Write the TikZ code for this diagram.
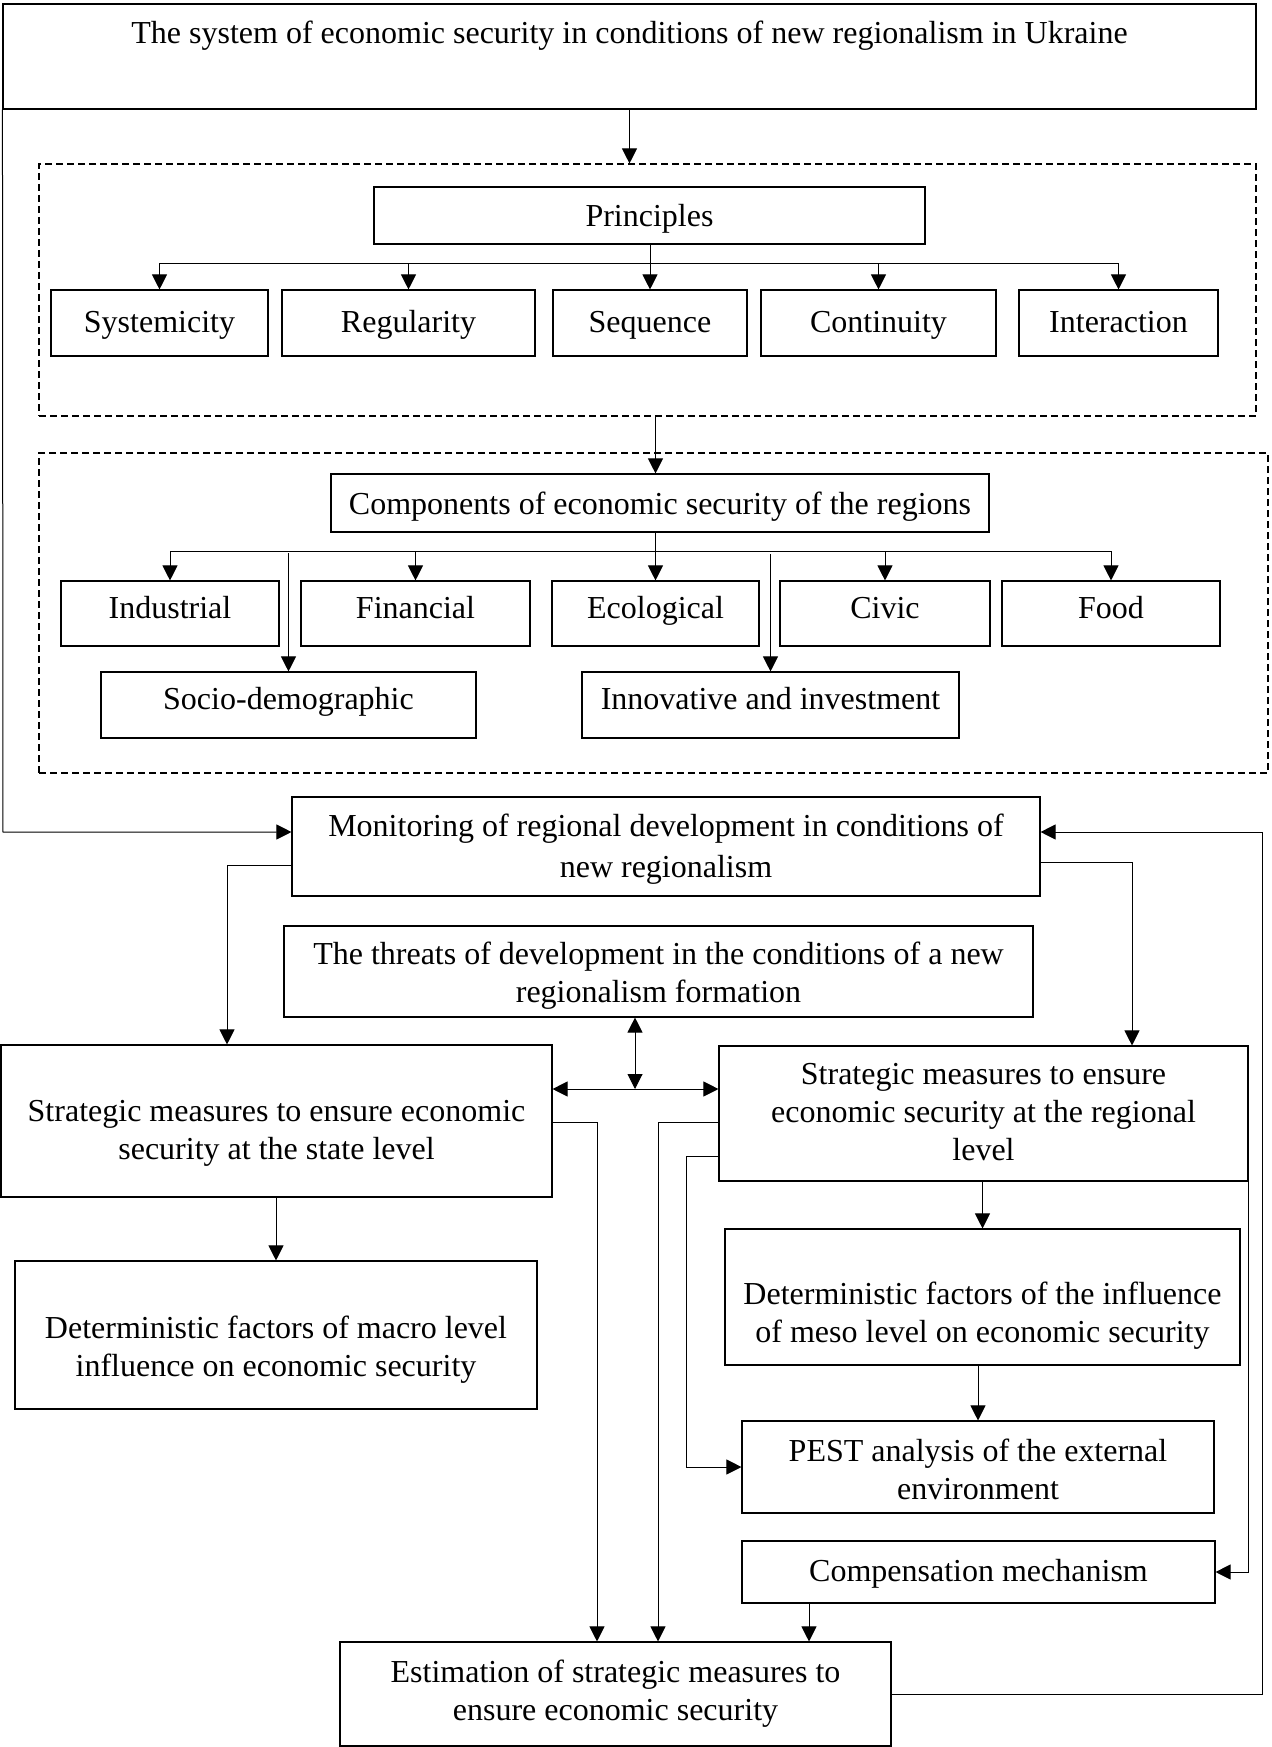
\documentclass[tikz,border=0pt]{standalone}
\usepackage{fontspec}
\setmainfont{Liberation Serif}
\usetikzlibrary{arrows.meta}
\begin{document}
\begin{tikzpicture}[x=1pt,y=-1pt,
  box/.style={draw, line width=1.1pt, inner sep=0pt, align=center, font=\fontsize{32}{38}\selectfont},
  one/.style={text height=23pt, text depth=5pt},
  dashbox/.style={draw, line width=1.1pt, inner sep=0pt, dash pattern=on 7pt off 4pt},
  txt/.style={inner sep=0pt, align=center, font=\fontsize{32}{38}\selectfont},
  ln/.style={line width=1pt},
  arr/.style={line width=1pt, -{Triangle[length=15pt,width=15pt]}},
  dbl/.style={line width=1pt, {Triangle[length=15pt,width=15pt]}-{Triangle[length=15pt,width=15pt]}}]
\useasboundingbox (0,0) rectangle (1271,1747);
% boxes
\node[box, minimum width=1253, minimum height=105] (title) at (629.5,56.5) {};
\node[txt] (titletext) at (629.5,36) {The system of economic security in conditions of new regionalism in Ukraine};
\node[dashbox, minimum width=1217, minimum height=252] (dashA) at (647.5,290) {};
\node[dashbox, minimum width=1229, minimum height=320] (dashB) at (653.5,613) {};
\node[box, minimum width=551, minimum height=57, text height=27pt, text depth=5pt] (princ) at (649.5,215.5) {Principles};
\node[box, one, minimum width=217, minimum height=66] (sys) at (159.5,323) {Systemicity};
\node[box, one, minimum width=253, minimum height=66] (reg) at (408.5,323) {Regularity};
\node[box, one, minimum width=194, minimum height=66] (seq) at (650,323) {Sequence};
\node[box, one, minimum width=235, minimum height=66] (con) at (878.5,323) {Continuity};
\node[box, one, minimum width=199, minimum height=66] (int) at (1118.5,323) {Interaction};
\node[box, minimum width=658, minimum height=58, text height=27pt, text depth=5pt] (comps) at (660,503) {Components of economic security of the regions};
\node[box, minimum width=218, minimum height=65, text height=23pt, text depth=14pt] (ind) at (170,613.5) {Industrial};
\node[box, minimum width=229, minimum height=65, text height=23pt, text depth=14pt] (fin) at (415.5,613.5) {Financial};
\node[box, minimum width=207, minimum height=65, text height=23pt, text depth=14pt] (eco) at (655.5,613.5) {Ecological};
\node[box, minimum width=210, minimum height=65, text height=23pt, text depth=14pt] (civ) at (885,613.5) {Civic};
\node[box, minimum width=218, minimum height=65, text height=23pt, text depth=14pt] (food) at (1111,613.5) {Food};
\node[box, minimum width=375, minimum height=66, text height=23pt, text depth=14pt] (soc) at (288.5,705) {Socio-demographic};
\node[box, minimum width=377, minimum height=66, text height=23pt, text depth=14pt] (inn) at (770.5,705) {Innovative and investment};
\node[box, minimum width=748, minimum height=99] (mon) at (666,846.5) {};
\node[txt, font=\fontsize{32}{41}\selectfont] (montext) at (666,849) {Monitoring of regional development in conditions of\\new regionalism};
\node[box, minimum width=749, minimum height=91] (thr) at (658.5,971.5) {};
\node[txt] (thrtext) at (658.5,975.5) {The threats of development in the conditions of a new\\regionalism formation};
\node[box, minimum width=551, minimum height=152] (state) at (276.5,1121) {};
\node[txt] (statetext) at (276.5,1133) {Strategic measures to ensure economic\\security at the state level};
\node[box, minimum width=529, minimum height=135] (regl) at (983.5,1113.5) {};
\node[txt] (regltext) at (983.5,1112) {Strategic measures to ensure\\economic security at the regional\\level};
\node[box, minimum width=522, minimum height=148] (macro) at (276,1335) {};
\node[txt] (macrotext) at (276,1350) {Deterministic factors of macro level\\influence on economic security};
\node[box, minimum width=515, minimum height=136] (meso) at (982.5,1297) {};
\node[txt] (mesotext) at (982.5,1316) {Deterministic factors of the influence\\of meso level on economic security};
\node[box, minimum width=472, minimum height=92] (pest) at (978,1467) {};
\node[txt] (pesttext) at (978,1469) {PEST analysis of the external\\environment};
\node[box, one, minimum width=473, minimum height=62] (comp) at (978.5,1572) {Compensation mechanism};
\node[box, minimum width=551, minimum height=104] (est) at (615.5,1694) {Estimation of strategic measures to\\ensure economic security};
% helper coordinates
\coordinate (barA) at (0,263);
\coordinate (barB) at (0,551);
\coordinate (lx) at (3,0);
\coordinate (rx) at (1262,0);
\coordinate (mw) at ([yshift=14.5pt]mon.west);
\coordinate (me) at ([yshift=14.5pt]mon.east);
\coordinate (mlw) at ([yshift=-19pt]mon.west);
\coordinate (mle) at ([yshift=-15.5pt]mon.east);
\coordinate (sl) at (227,0);
\coordinate (sr) at (1132,0);
\coordinate (tv) at (635,1089);
\coordinate (c1) at (597,1122);
\coordinate (c2) at (658,1122);
\coordinate (c3) at (686,1156);
\coordinate (c4) at (809,0);
% connectors top
\draw[arr] (title.south) -- (title.south |- dashA.north);
\draw[arr] (princ.south -| seq.north) -- (seq.north);
\draw[ln] (sys.north |- barA) -- (int.north |- barA);
\draw[arr] (sys.north |- barA) -- (sys.north);
\draw[arr] (reg.north |- barA) -- (reg.north);
\draw[arr] (con.north |- barA) -- (con.north);
\draw[arr] (int.north |- barA) -- (int.north);
\draw[arr] (eco.north |- dashA.south) -- (eco.north |- comps.north);
\draw[arr] (eco.north |- comps.south) -- (eco.north);
\draw[ln] (ind.north |- barB) -- (food.north |- barB);
\draw[arr] (ind.north |- barB) -- (ind.north);
\draw[arr] (fin.north |- barB) -- (fin.north);
\draw[arr] (civ.north |- barB) -- (civ.north);
\draw[arr] (food.north |- barB) -- (food.north);
\draw[arr] ([yshift=-2pt]soc.north |- barB) -- (soc.north);
\draw[arr] ([yshift=-3pt]inn.north |- barB) -- (inn.north);
% loops
\draw[arr] (title.south west) -- (lx |- mw) -- (mw);
\draw[arr] (est.east) -- (est.east -| rx) -- (rx |- me) -- (me);
\draw[arr] (mlw) -| (sl |- state.north);
\draw[arr] (mle) -| (sr |- regl.north);
% middle
\draw[dbl] (thr.south -| tv) -- (tv);
\draw[dbl] (state.east |- tv) -- (regl.west |- tv);
\draw[arr] (state.east |- c1) -| (c1 |- est.north);
\draw[arr] (regl.west |- c2) -| (c2 |- est.north);
\draw[arr] (regl.west |- c3) -- (c3) |- (pest.west);
\draw[arr] (meso.north |- regl.south) -- (meso.north);
\draw[arr] (macro.north |- state.south) -- (macro.north);
\draw[arr] (pest.north |- meso.south) -- (pest.north);
\draw[arr] (regl.south east) |- (comp.east);
\draw[arr] (c4 |- comp.south) -- (c4 |- est.north);
\end{tikzpicture}
\end{document}
